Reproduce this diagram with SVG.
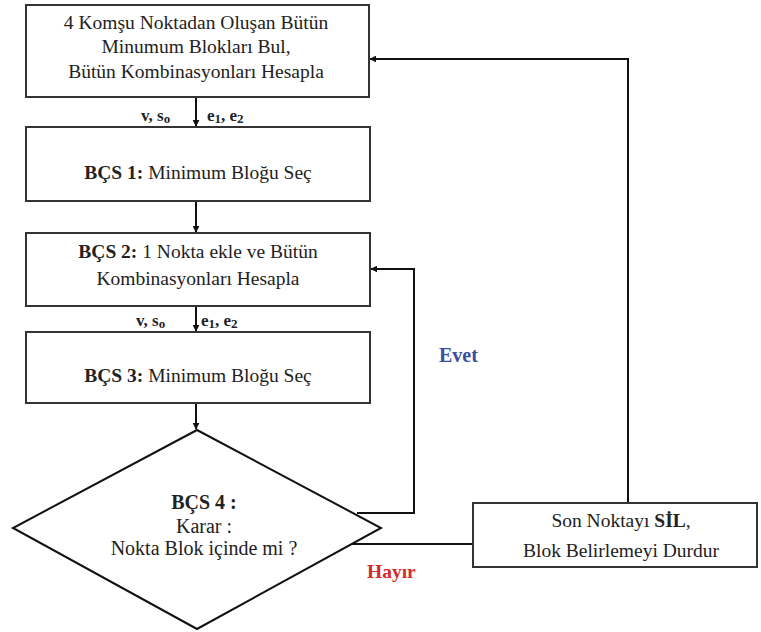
<svg xmlns="http://www.w3.org/2000/svg" width="761" height="632" viewBox="0 0 761 632">
<defs>
<style>
.box{fill:#fff;stroke:#333;stroke-width:2}
.ln{fill:none;stroke:#111;stroke-width:2}
text{font-family:'Liberation Serif','Times New Roman',serif;font-size:19.5px;fill:#222}
.c{text-anchor:middle}
.b{font-weight:bold}
.lbl{font-size:17px;font-weight:bold}
.sub{font-size:13px}
</style>
<marker id="ah" viewBox="0 0 10 10" refX="9" refY="5" markerWidth="7" markerHeight="7" markerUnits="userSpaceOnUse" orient="auto"><path d="M0,0L10,5L0,10z" fill="#111"/></marker>
</defs>
<rect width="761" height="632" fill="#fff"/>
<g id="connectors">
<line class="ln" x1="196" y1="97" x2="196" y2="126" marker-end="url(#ah)"/>
<line class="ln" x1="196" y1="201" x2="196" y2="232" marker-end="url(#ah)"/>
<line class="ln" x1="196" y1="306" x2="196" y2="331" marker-end="url(#ah)"/>
<line class="ln" x1="196" y1="403" x2="196" y2="429" marker-end="url(#ah)"/>
<polyline class="ln" points="357,513 414,513 414,269 371,269" marker-end="url(#ah)"/>
<line class="ln" x1="333" y1="544" x2="473" y2="544"/>
<polyline class="ln" points="628,503 628,59 370,59" marker-end="url(#ah)"/>
</g>
<g id="n1">
<rect class="box" x="26" y="5" width="343" height="92"/>
<text class="c" x="196" y="29">4 Komşu Noktadan Oluşan Bütün</text>
<text class="c" x="196" y="53">Minumum Blokları Bul,</text>
<text class="c" x="196" y="78">Bütün Kombinasyonları Hesapla</text>
</g>
<g id="lbl1">
<text class="lbl" x="141" y="121">v, s<tspan class="sub" dy="2">o</tspan></text>
<text class="lbl" x="207" y="121">e<tspan class="sub" dy="2">1</tspan><tspan dy="-2">, e</tspan><tspan class="sub" dy="2">2</tspan></text>
</g>
<g id="n2">
<rect class="box" x="26" y="127" width="344" height="74"/>
<text class="c" x="198" y="179"><tspan class="b">BÇS 1:</tspan> Minimum Bloğu Seç</text>
</g>
<g id="n3">
<rect class="box" x="26" y="233" width="344" height="73"/>
<text class="c" x="198" y="258"><tspan class="b">BÇS 2:</tspan> 1 Nokta ekle ve Bütün</text>
<text class="c" x="198" y="285">Kombinasyonları Hesapla</text>
</g>
<g id="lbl2">
<text class="lbl" x="136" y="326">v, s<tspan class="sub" dy="2">o</tspan></text>
<text class="lbl" x="201" y="326">e<tspan class="sub" dy="2">1</tspan><tspan dy="-2">, e</tspan><tspan class="sub" dy="2">2</tspan></text>
</g>
<g id="n4">
<rect class="box" x="26" y="332" width="344" height="71"/>
<text class="c" x="198" y="382"><tspan class="b">BÇS 3:</tspan> Minimum Bloğu Seç</text>
</g>
<g id="n5">
<polygon class="box" points="197,430 381,528 197,629 13,528" style="stroke:#111"/>
<text class="c b" x="204" y="509" style="font-size:20px">BÇS 4 :</text>
<text class="c" x="204" y="533" style="font-size:20px">Karar :</text>
<text class="c" x="204" y="555" style="font-size:20px">Nokta Blok içinde mi ?</text>
</g>
<g id="n6">
<rect class="box" x="473" y="503" width="284" height="64"/>
<text class="c" x="621" y="527">Son Noktayı <tspan class="b">SİL</tspan>,</text>
<text class="c" x="621" y="557">Blok Belirlemeyi Durdur</text>
</g>
<text x="439" y="362" style="font-weight:bold;font-size:20px;fill:#3b4ea0">Evet</text>
<text x="367" y="578" style="font-weight:bold;font-size:19.5px;fill:#d42b2b">Hayır</text>
</svg>
